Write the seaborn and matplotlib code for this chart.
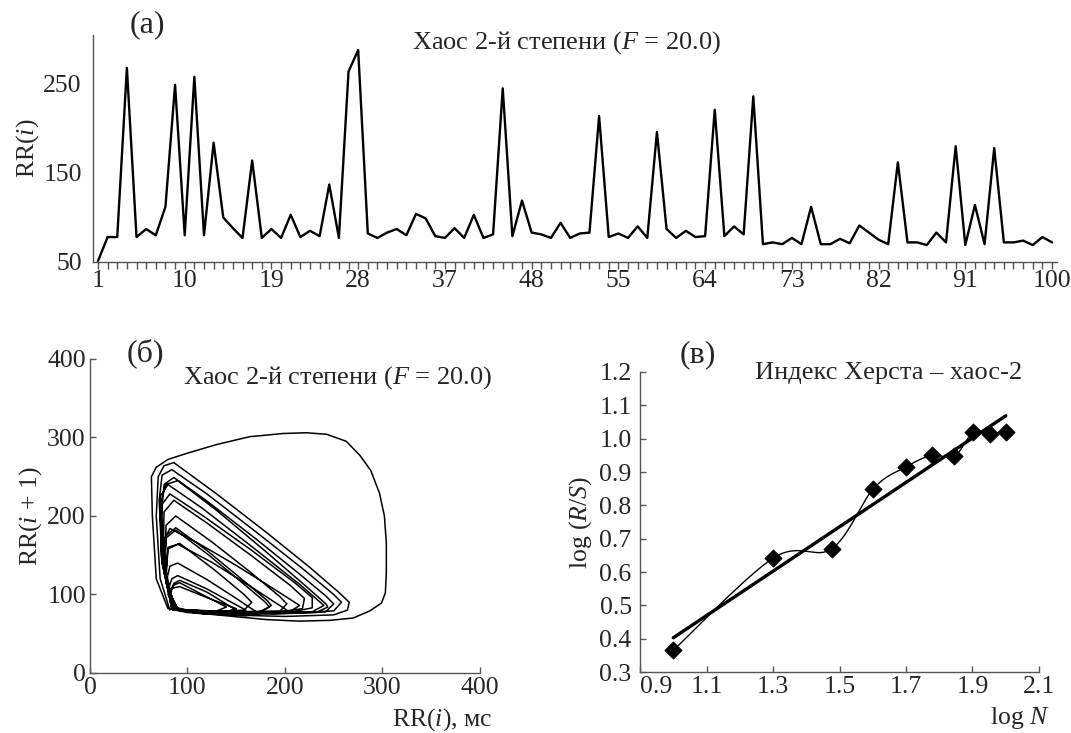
import numpy as np
import matplotlib
matplotlib.use('Agg')
import matplotlib.pyplot as plt
import seaborn as sns

sns.set_theme(style='white')
plt.rcParams['font.family'] = ['Liberation Serif', 'DejaVu Serif']
plt.rcParams['mathtext.fontset'] = 'custom'
plt.rcParams['mathtext.rm'] = 'Liberation Serif'
plt.rcParams['mathtext.it'] = 'Liberation Serif:italic'

FS = 18.5      # подписи осей и делений
FS_T = 19      # заголовки панелей
FS_L = 23      # буквы (а), (б), (в)

# (а) RR интервалы, 100 ударов
beat_idx = list(range(1, 101))
rr_series = [51, 78, 78, 268, 78, 87, 80, 112, 249, 80,
             258, 80, 184, 100, 88, 77, 164, 77, 87, 77,
             103, 78, 85, 79, 137, 77, 264, 288, 82, 77,
             83, 87, 80, 104, 99, 79, 77, 88, 77, 103,
             77, 81, 245, 79, 119, 83, 81, 77, 94, 77,
             82, 83, 214, 78, 82, 77, 90, 77, 196, 87,
             77, 85, 78, 79, 221, 79, 90, 81, 236, 70,
             72, 70, 77, 70, 112, 70, 70, 76, 71, 91,
             83, 75, 70, 162, 72, 72, 69, 83, 72, 180,
             69, 114, 70, 178, 72, 72, 74, 69, 78, 72]
top_ticks = [1, 10, 19, 28, 37, 46, 55, 64, 73, 82, 91, 100]
top_tick_labels = ['1', '10', '19', '28', '37', '48', '55', '64', '73', '82', '91', '100']

# (б) фазовый портрет RR(i+1) от RR(i), петли
phase_pts = [
    (82, 80), (72, 120), (68, 200), (70, 250), (76, 264), (86, 268), (130, 228), (180, 180), (225, 135),
    (255, 103), (266, 90), (264, 80), (250, 74), (200, 72), (140, 74), (100, 77),
    (88, 80), (76, 130), (73, 200), (76, 240), (86, 249), (120, 219), (170, 171), (215, 126), (242, 98),
    (250, 88), (242, 78), (190, 75), (130, 76), (95, 79),
    (84, 82), (74, 140), (71, 220), (74, 252), (84, 259), (120, 228), (170, 180), (220, 131), (250, 100),
    (258, 90), (250, 79), (200, 76), (140, 77), (98, 80),
    (88, 82), (78, 120), (76, 170), (82, 184), (110, 166), (150, 137), (190, 106), (215, 86), (205, 78),
    (150, 77), (100, 80),
    (86, 83), (78, 130), (80, 160), (90, 164), (125, 141), (165, 110), (202, 80), (190, 76), (130, 77), (95, 81),
    (88, 84), (80, 100), (84, 108), (92, 110), (120, 96), (150, 82), (140, 78), (100, 80),
    (86, 82), (78, 115), (82, 136), (90, 140), (120, 119), (150, 95), (174, 75), (160, 73), (110, 76), (92, 80),
    (80, 82), (68, 120), (64, 200), (63, 250), (68, 262), (80, 272), (100, 280), (130, 291), (164, 301),
    (198, 305), (222, 306), (243, 304), (263, 295), (277, 277), (288, 258), (297, 229), (302, 200),
    (304, 166), (304, 127), (303, 102), (299, 89), (287, 79), (270, 70), (246, 67), (215, 66), (181, 68),
    (147, 72), (113, 76), (90, 80),
    (86, 80), (74, 140), (72, 215), (78, 240), (90, 245), (130, 207), (180, 155), (222, 110), (242, 88),
    (244, 84), (232, 77), (180, 76), (120, 77), (92, 80),
    (88, 83), (80, 105), (84, 120), (90, 124), (120, 107), (160, 80), (150, 77), (100, 79),
    (84, 82), (75, 140), (76, 205), (86, 220), (120, 191), (165, 150), (205, 112), (220, 95), (218, 82),
    (190, 77), (130, 78), (95, 80),
    (86, 81), (77, 130), (78, 188), (88, 200), (125, 167), (165, 128), (195, 97), (202, 88), (195, 79),
    (150, 78), (100, 80),
    (85, 80), (74, 150), (74, 215), (82, 228), (115, 201), (165, 157), (210, 115), (228, 96), (228, 83),
    (205, 77), (140, 77), (96, 80),
    (84, 81), (73, 150), (72, 225), (80, 240), (115, 210), (165, 162), (215, 113), (238, 88), (240, 86),
    (228, 78), (170, 76), (110, 78), (90, 80),
    (90, 82), (82, 100), (86, 112), (92, 115), (115, 100), (140, 84), (130, 79), (95, 80),
    (88, 81), (78, 120), (80, 158), (92, 165), (128, 131), (158, 100), (166, 90), (158, 80), (120, 78), (94, 80),
    (86, 80), (76, 130), (78, 175), (88, 185), (120, 156), (160, 115), (182, 92), (186, 86), (176, 78),
    (130, 76), (96, 79),
    (90, 82), (82, 102), (86, 114), (92, 118), (120, 103), (150, 80), (140, 77), (94, 80),
    (86, 80), (76, 128), (78, 172), (88, 182), (122, 150), (160, 111), (180, 90), (184, 84), (172, 77),
    (128, 76), (92, 80),
]
phase_ticks = [0, 100, 200, 300, 400]

# (в) R/S анализ
log_n = [1.0, 1.301, 1.477, 1.602, 1.699, 1.778, 1.845, 1.903, 1.954, 2.0]
log_rs = [0.365, 0.642, 0.67, 0.85, 0.915, 0.95, 0.947, 1.02, 1.015, 1.02]


def smooth_line(xs, ys, steps=30):
    # сглаженная линия через точки (как "smooth line" в Excel)
    pts = np.column_stack([xs, ys]).astype(float)
    pts = np.vstack([pts[0], pts, pts[-1]])
    t = np.linspace(0, 1, steps, endpoint=False)[:, None]
    out = []
    for i in range(1, len(pts) - 2):
        p0, p1, p2, p3 = pts[i - 1:i + 3]
        seg = 0.5 * (2 * p1 + (-p0 + p2) * t + (2 * p0 - 5 * p1 + 4 * p2 - p3) * t ** 2
                     + (-p0 + 3 * p1 - 3 * p2 + p3) * t ** 3)
        out.append(seg)
    out.append(pts[-2][None])
    out = np.vstack(out)
    return out[:, 0], out[:, 1]


def style_axes(ax):
    for side in ['top', 'right']:
        ax.spines[side].set_visible(False)
    for side in ['left', 'bottom']:
        ax.spines[side].set_color('#555555')
        ax.spines[side].set_linewidth(1.0)


fig = plt.figure(figsize=(10.71, 7.33), dpi=100)

# --- (а) ---
ax1 = fig.add_axes([0.0868, 0.6426, 0.900, 0.3097])
sns.lineplot(x=beat_idx, y=rr_series, color='black', lw=1.7, ax=ax1)
ax1.set_xlim(0.48, 100.5)
ax1.set_ylim(50, 305)
ax1.set_xticks(top_ticks)
ax1.set_xticklabels(top_tick_labels)
ax1.set_xticks(beat_idx, minor=True)
ax1.set_yticks([50, 150, 250])
ax1.tick_params(axis='x', which='both', direction='out', length=5, width=1, color='#555555',
                bottom=True, labelsize=FS, pad=1)
ax1.tick_params(axis='y', length=0, labelsize=FS, pad=8)
ax1.set_ylabel('RR($i$)', fontsize=FS, labelpad=2)
style_axes(ax1)
fig.text(147 / 1071, 1 - 25 / 733, '(а)', fontsize=FS_L, ha='center', va='center')
fig.text(567 / 1071, 1 - 43 / 733, 'Хаос 2-й степени ($F$ = 20.0)', fontsize=FS_T,
         ha='center', va='center')

# --- (б) ---
ax2 = fig.add_axes([0.084, 0.0819, 0.3641, 0.4284])
phase_x = [p[0] for p in phase_pts]
phase_y = [p[1] for p in phase_pts]
sns.lineplot(x=phase_x, y=phase_y, sort=False, estimator=None, color='black', lw=1.1, ax=ax2)
ax2.set_xlim(0, 400)
ax2.set_ylim(0, 400)
ax2.set_xticks(phase_ticks)
ax2.set_yticks(phase_ticks)
ax2.tick_params(axis='both', direction='in', length=4, width=1, color='#555555',
                bottom=True, left=True, labelsize=FS, pad=3)
ax2.set_ylabel('RR($i$ + 1)', fontsize=FS, labelpad=2)
style_axes(ax2)
fig.text(145 / 1071, 1 - 353 / 733, '(б)', fontsize=FS_L, ha='center', va='center')
fig.text(492 / 1071, 1 - 378 / 733, 'Хаос 2-й степени ($F$ = 20.0)', fontsize=FS_T,
         ha='right', va='center')
fig.text(492 / 1071, 1 - 720 / 733, 'RR($i$), мс', fontsize=FS, ha='right', va='center')

# --- (в) ---
ax3 = fig.add_axes([0.5976, 0.0832, 0.3725, 0.4093])
sx, sy = smooth_line(log_n, log_rs)
ax3.plot(sx, sy, color='black', lw=1.0)
sns.regplot(x=log_n, y=log_rs, scatter=False, ci=None, truncate=True,
            line_kws=dict(color='black', lw=2.4), ax=ax3)
sns.scatterplot(x=log_n, y=log_rs, marker='D', s=75, color='black', edgecolor='black', ax=ax3, zorder=5)
ax3.set_xlim(0.9, 2.1)
ax3.set_ylim(0.3, 1.2)
ax3.set_xticks(np.round(np.arange(0.9, 2.11, 0.2), 1))
ax3.set_yticks(np.round(np.arange(0.3, 1.21, 0.1), 1))
ax3.set_xticklabels(['0.9', '1.1', '1.3', '1.5', '1.7', '1.9', '2.1'])
ax3.set_yticklabels(['0.3', '0.4', '0.5', '0.6', '0.7', '0.8', '0.9', '1.0', '1.1', '1.2'])
ax3.tick_params(axis='both', direction='in', length=4, width=1, color='#555555',
                bottom=True, left=True, labelsize=FS, pad=3)
ax3.tick_params(axis='y', pad=6)
ax3.get_xticklabels()[0].set_ha('left')
ax3.set_ylabel('log ($R$/$S$)', fontsize=FS, labelpad=4)
ax3.set_xlabel('')
style_axes(ax3)
fig.text(698 / 1071, 1 - 355 / 733, '(в)', fontsize=FS_L, ha='center', va='center')
fig.text(889 / 1071, 1 - 373 / 733, 'Индекс Херста – хаос-2', fontsize=FS_T,
         ha='center', va='center')
fig.text(1050 / 1071, 1 - 718 / 733, 'log $N$', fontsize=FS, ha='right', va='center')

fig.savefig('out.png', dpi=100)
